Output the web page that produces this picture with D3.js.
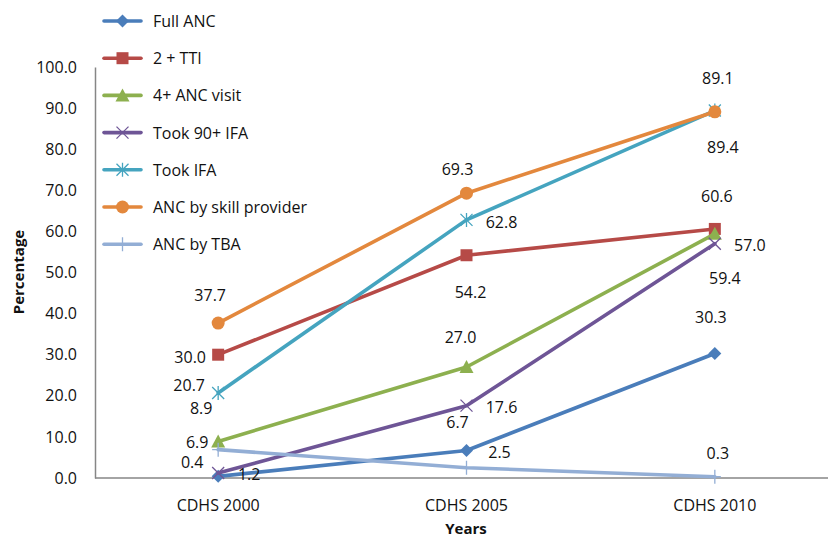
<!DOCTYPE html>
<html>
<head>
<meta charset="utf-8">
<script src="https://cdn.jsdelivr.net/npm/d3@7"></script>
<style>
  html, body { margin: 0; padding: 0; background: #fff; }
  svg { display: block; font-family: "Open Sans", "Liberation Sans", sans-serif; }
</style>
</head>
<body>
<svg id="chart" width="828" height="539"></svg>
<script>
// Survey rounds on the x axis
const years = ["CDHS 2000", "CDHS 2005", "CDHS 2010"];

// Indicator names, in drawing / legend order
const seriesNames = [
  "Full ANC", "2 + TTI", "4+ ANC visit", "Took 90+ IFA",
  "Took IFA", "ANC by skill provider", "ANC by TBA"
];

// Percentages per indicator, one value per survey round
const fullAnc      = [0.4, 6.7, 30.3];
const tti2         = [30.0, 54.2, 60.6];
const anc4Visit    = [8.9, 27.0, 59.4];
const took90Ifa    = [1.2, 17.6, 57.0];
const tookIfa      = [20.7, 62.8, 89.4];
const skillProv    = [37.7, 69.3, 89.1];
const ancTba       = [6.9, 2.5, 0.3];

const yTicks = [0, 10, 20, 30, 40, 50, 60, 70, 80, 90, 100];

const seriesValues = [fullAnc, tti2, anc4Visit, took90Ifa, tookIfa, skillProv, ancTba];

// Styling per series
const colors  = ["#4A7DBA", "#B64A47", "#8DB04F", "#6E5596", "#45A4BF", "#E3883D", "#93AED5"];
const markers = ["diamond", "square", "triangle", "x", "asterisk", "circle", "plus"];

// Data label offsets [dx, dy] from each point, per series and round
const labelOffsets = [
  [[-26, -14], [-9, -28], [-4, -36]],
  [[-28, 2],   [4, 37],   [2, -33]],
  [[-17, -33], [-6, -30], [10, 44]],
  [[31, 1],    [35, 1],   [35, 1]],
  [[-29, -8],  [35, 2],   [8, 36]],
  [[-8, -28],  [-9, -24], [3, -34]],
  [[-21, -8],  [33, -16], [3, -24]]
];

const svg = d3.select("#chart");
const W = 828;

const x = d3.scaleBand().domain(years).range([94, 839]).padding(0);
const cx = d => x(d) + x.bandwidth() / 2;
const y = d3.scaleLinear().domain([0, 100]).range([478, 67]);

const axisColor = "#868686";
const textColor = "#111";

// Y axis
const yAxis = svg.append("g")
  .attr("transform", "translate(95,0)")
  .call(d3.axisLeft(y).tickValues(yTicks).tickFormat(d3.format(".1f"))
        .tickSize(0).tickPadding(18));
yAxis.select(".domain").attr("stroke", axisColor).attr("stroke-width", 1.5);
yAxis.selectAll("text").attr("font-size", 16).attr("fill", textColor)
  .attr("font-family", "'Open Sans', sans-serif");

// X axis
const xAxis = svg.append("g")
  .attr("transform", "translate(0,478)")
  .call(d3.axisBottom(x).tickSize(0).tickPadding(22));
xAxis.select(".domain").remove();
svg.append("line")
  .attr("x1", 95).attr("x2", W).attr("y1", y(0)).attr("y2", y(0))
  .attr("stroke", axisColor).attr("stroke-width", 1.5);
xAxis.selectAll("text").attr("font-size", 16).attr("fill", textColor)
  .attr("font-family", "'Open Sans', sans-serif");

// Axis titles
svg.append("text")
  .attr("transform", "translate(24,272) rotate(-90)")
  .attr("text-anchor", "middle")
  .attr("font-size", 15).attr("font-weight", "bold").attr("fill", textColor)
  .text("Percentage");
svg.append("text")
  .attr("x", 466).attr("y", 528)
  .attr("text-anchor", "middle")
  .attr("dominant-baseline", "central")
  .attr("font-size", 15).attr("font-weight", "bold").attr("fill", textColor)
  .text("Years");

// Marker drawing
function drawMarker(g, type, color, px, py) {
  const m = g.append("g").attr("transform", `translate(${px},${py})`);
  if (type === "diamond") {
    m.append("path").attr("d", "M0,-6.5L6.5,0L0,6.5L-6.5,0Z").attr("fill", color);
  } else if (type === "square") {
    m.append("rect").attr("x", -6).attr("y", -6).attr("width", 12).attr("height", 12).attr("fill", color);
  } else if (type === "triangle") {
    m.append("path").attr("d", "M0,-7L7,6L-7,6Z").attr("fill", color);
  } else if (type === "circle") {
    m.append("circle").attr("r", 6.5).attr("fill", color);
  } else if (type === "x") {
    m.append("path").attr("d", "M-6,-6L6,6M-6,6L6,-6")
      .attr("stroke", color).attr("stroke-width", 1.3).attr("fill", "none");
  } else if (type === "asterisk") {
    m.append("path").attr("d", "M-6,-6L6,6M-6,6L6,-6M0,-7L0,7")
      .attr("stroke", color).attr("stroke-width", 1.3).attr("fill", "none");
  } else if (type === "plus") {
    m.append("path").attr("d", "M0,-7L0,7M-6,0L6,0")
      .attr("stroke", color).attr("stroke-width", 1.3).attr("fill", "none");
  }
}

const line = d3.line().x((d, i) => cx(years[i])).y(d => y(d));

// Series lines and markers
const plot = svg.append("g");
seriesValues.forEach((vals, s) => {
  const g = plot.append("g");
  g.append("path")
    .datum(vals)
    .attr("d", line)
    .attr("fill", "none")
    .attr("stroke", colors[s])
    .attr("stroke-width", 3.6)
    .attr("stroke-linejoin", "round")
    .attr("stroke-linecap", "round");
  vals.forEach((v, i) => drawMarker(g, markers[s], colors[s], cx(years[i]), y(v)));
});

// Data labels
const labels = svg.append("g");
seriesValues.forEach((vals, s) => {
  vals.forEach((v, i) => {
    const [dx, dy] = labelOffsets[s][i];
    labels.append("text")
      .attr("x", cx(years[i]) + dx)
      .attr("y", y(v) + dy)
      .attr("text-anchor", "middle")
      .attr("dominant-baseline", "central")
      .attr("font-size", 16)
      .attr("fill", textColor)
      .text(d3.format(".1f")(v));
  });
});

// Legend
const legend = svg.append("g");
seriesNames.forEach((name, s) => {
  const ly = 21 + s * 37.2;
  legend.append("line")
    .attr("x1", 104).attr("x2", 141).attr("y1", ly).attr("y2", ly)
    .attr("stroke", colors[s]).attr("stroke-width", 3.6).attr("stroke-linecap", "round");
  drawMarker(legend, markers[s], colors[s], 122.5, ly);
  legend.append("text")
    .attr("x", 153).attr("y", ly)
    .attr("dominant-baseline", "central")
    .attr("font-size", 16).attr("fill", textColor)
    .text(name);
});
</script>
</body>
</html>
